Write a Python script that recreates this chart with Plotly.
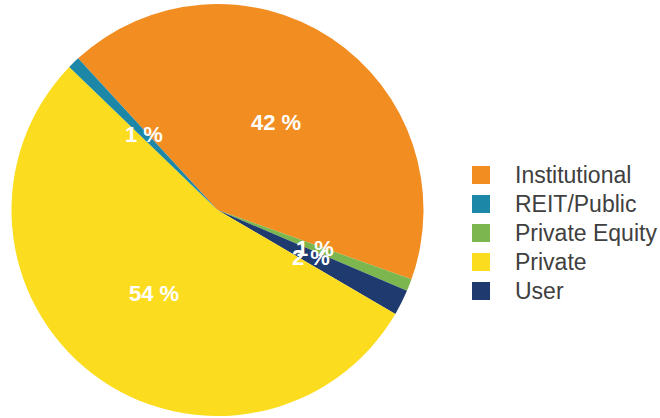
import math
import plotly.graph_objects as go

# Share of ownership by investor type (percent)
categories = ["Institutional", "Private Equity", "User", "Private", "REIT/Public"]
shares = [42.3, 0.95, 2.0, 53.8, 0.95]
colors = {
    "Institutional": "#F28D21",
    "REIT/Public": "#1C87A6",
    "Private Equity": "#7BB64E",
    "Private": "#FCDC1E",
    "User": "#1E3A6F",
}
legend_order = ["Institutional", "REIT/Public", "Private Equity", "Private", "User"]

W, H = 660, 418
dom_x = [11.5 / W, 423.5 / W]
dom_y = [1 - 416 / H, 1 - 4 / H]
start_angle = 317.4  # degrees clockwise from 12 o'clock

fig = go.Figure()
fig.add_trace(go.Pie(
    labels=categories,
    values=shares,
    sort=False,
    direction="clockwise",
    rotation=start_angle,
    marker=dict(colors=[colors[c] for c in categories], line=dict(width=0)),
    textinfo="none",
    hoverinfo="label+percent",
    showlegend=False,
    domain=dict(x=dom_x, y=dom_y),
))

# Legend entries in their own order
for name in legend_order:
    fig.add_trace(go.Scatter(
        x=[None], y=[None], mode="markers",
        name=f'<span style="font-size:23px">{name}</span>',
        marker=dict(symbol="square", size=16, color=colors[name],
                    line=dict(width=2, color=colors[name])),
    ))

# Percentage labels at half the radius along each slice's mid-angle
cx = (dom_x[0] + dom_x[1]) / 2 * W
cy = (1 - (dom_y[0] + dom_y[1]) / 2) * H
radius = min((dom_x[1] - dom_x[0]) * W, (dom_y[1] - dom_y[0]) * H) / 2
total = sum(shares)
angle = start_angle
for cat, v in zip(categories, shares):
    span = 360 * v / total
    mid = math.radians(angle + span / 2)
    angle += span
    px = cx + 0.51 * radius * math.sin(mid)
    py = cy - 0.51 * radius * math.cos(mid)
    fig.add_annotation(
        x=px / W, y=1 - py / H, xref="paper", yref="paper",
        xanchor="center", yanchor="middle",
        text=f"{round(100 * v / total)} %", showarrow=False,
        font=dict(family="Liberation Sans, Arial, sans-serif", size=22,
                  color="white", weight="bold"),
    )

fig.update_layout(
    width=W, height=H,
    margin=dict(l=0, r=0, t=0, b=0, autoexpand=False),
    paper_bgcolor="white", plot_bgcolor="white",
    xaxis=dict(visible=False), yaxis=dict(visible=False),
    showlegend=True,
    legend=dict(
        x=447 / W, xanchor="left", y=1 - 233 / H, yanchor="middle",
        font=dict(family="Liberation Sans, Arial, sans-serif", size=20, color="#404040"),
        itemwidth=58, bgcolor="rgba(0,0,0,0)",
    ),
)

fig.write_html("out.html")
